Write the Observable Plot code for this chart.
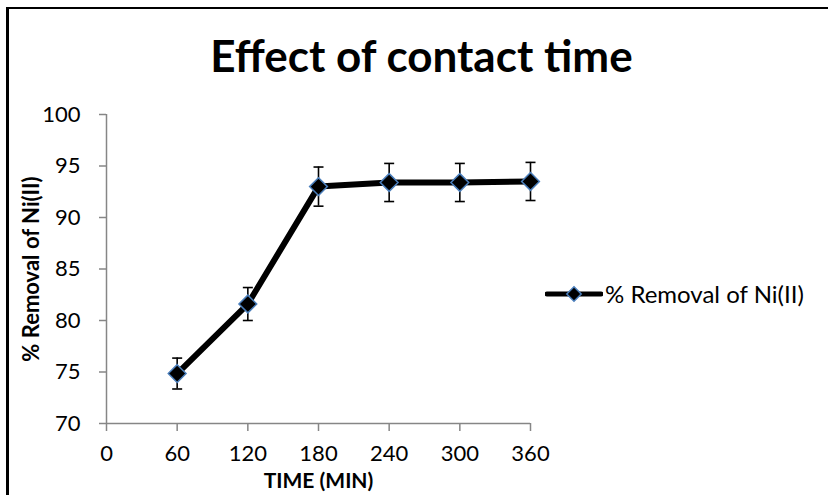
<!DOCTYPE html>
<html>
<head>
<meta charset="utf-8">
<script src="https://cdn.jsdelivr.net/npm/d3@7"></script>
<script src="https://cdn.jsdelivr.net/npm/@observablehq/plot@0.6"></script>
<style>
  html, body { margin: 0; padding: 0; background: #fff; }
  #wrap { position: relative; width: 828px; height: 495px; overflow: hidden; font-family: Lato, "Open Sans", sans-serif; }
  #frame { position: absolute; left: 6px; top: 7px; width: 900px; height: 600px; border-left: 3px solid #000; border-top: 2.5px solid #000; box-sizing: border-box; }
  #title { position: absolute; left: 0; width: 843px; top: 28px; text-align: center; font-weight: bold; font-size: 44px; line-height: 54px; color: #000; }
  #chart { position: absolute; left: 0; top: 0; }
  #legend { position: absolute; left: 545px; top: 279px; display: flex; align-items: center; font-size: 24px; color: #000; white-space: nowrap; }
  #legend svg { margin-right: 2px; }
</style>
</head>
<body>
<div id="wrap">
  <div id="frame"></div>
  <div id="chart"></div>
  <div id="title">Effect of contact time</div>
  <div id="legend"></div>
</div>
<script>
const times = [60, 120, 180, 240, 300, 360];
const removal = [74.85, 81.6, 93.0, 93.4, 93.4, 93.5];
const errors = [1.5, 1.6, 1.9, 1.85, 1.85, 1.85];
const xTicks = [0, 60, 120, 180, 240, 300, 360];
const yTicks = [70, 75, 80, 85, 90, 95, 100];
const seriesName = "% Removal of Ni(II)";
const xLabel = "TIME (MIN)";

const data = times.map((t, i) => ({t, v: removal[i], lo: removal[i] - errors[i], hi: removal[i] + errors[i]}));

const capSymbol = { draw(ctx) { ctx.moveTo(-5, 0); ctx.lineTo(5, 0); } };
const axisGray = "#868686";
const markerBlue = "#4a7ebb";

const chart = Plot.plot({
  width: 828,
  height: 495,
  marginLeft: 106,
  marginRight: 298,
  marginTop: 114,
  marginBottom: 72,
  style: { fontFamily: "Lato, 'Open Sans', sans-serif", fontSize: "22px", background: "transparent", overflow: "visible" },
  x: { domain: [0, 360] },
  y: { domain: [70, 100] },
  marks: [
    Plot.ruleX([0], { stroke: axisGray, strokeWidth: 1.5 }),
    Plot.ruleY([70], { stroke: axisGray, strokeWidth: 1.5 }),
    Plot.axisY({ ticks: yTicks, tickSize: 7, tickPadding: 19, stroke: axisGray, strokeWidth: 1.5, fill: "#000", fontSize: 22, label: null }),
    Plot.axisX({ ticks: xTicks, tickSize: 8, tickPadding: 14, stroke: axisGray, strokeWidth: 1.5, fill: "#000", fontSize: 22, label: null }),
    Plot.ruleX(data, { x: "t", y1: "lo", y2: "hi", stroke: "#000", strokeWidth: 1.6 }),
    Plot.dot(data, { x: "t", y: "lo", symbol: capSymbol, stroke: "#000", strokeWidth: 1.6, r: 5 }),
    Plot.dot(data, { x: "t", y: "hi", symbol: capSymbol, stroke: "#000", strokeWidth: 1.6, r: 5 }),
    Plot.line(data, { x: "t", y: "v", stroke: "#000", strokeWidth: 6, strokeLinejoin: "round" }),
    Plot.dot(data, { x: "t", y: "v", symbol: "diamond2", r: 8, fill: "#000", stroke: markerBlue, strokeWidth: 1.5 }),
    Plot.text([seriesName], { frameAnchor: "left", textAnchor: "middle", lineAnchor: "middle", rotate: -90, dx: -75, fontWeight: "bold", fontSize: 22, fill: "#000" }),
    Plot.text([xLabel], { frameAnchor: "bottom", textAnchor: "middle", lineAnchor: "middle", dy: 58, fontWeight: "bold", fontSize: 21, fill: "#000" })
  ]
});
document.getElementById("chart").appendChild(chart);

// legend
const lg = d3.select("#legend");
const sw = lg.append("svg").attr("width", 58).attr("height", 24);
sw.append("line").attr("x1", 2).attr("x2", 56).attr("y1", 12).attr("y2", 12).attr("stroke", "#000").attr("stroke-width", 5).attr("stroke-linecap", "round");
sw.append("path").attr("d", d3.symbol(d3.symbolDiamond2, Math.PI * 6.5 * 6.5)()).attr("transform", "translate(29,12)").attr("fill", "#000").attr("stroke", markerBlue).attr("stroke-width", 1.5);
lg.append("span").text(seriesName);
</script>
</body>
</html>
